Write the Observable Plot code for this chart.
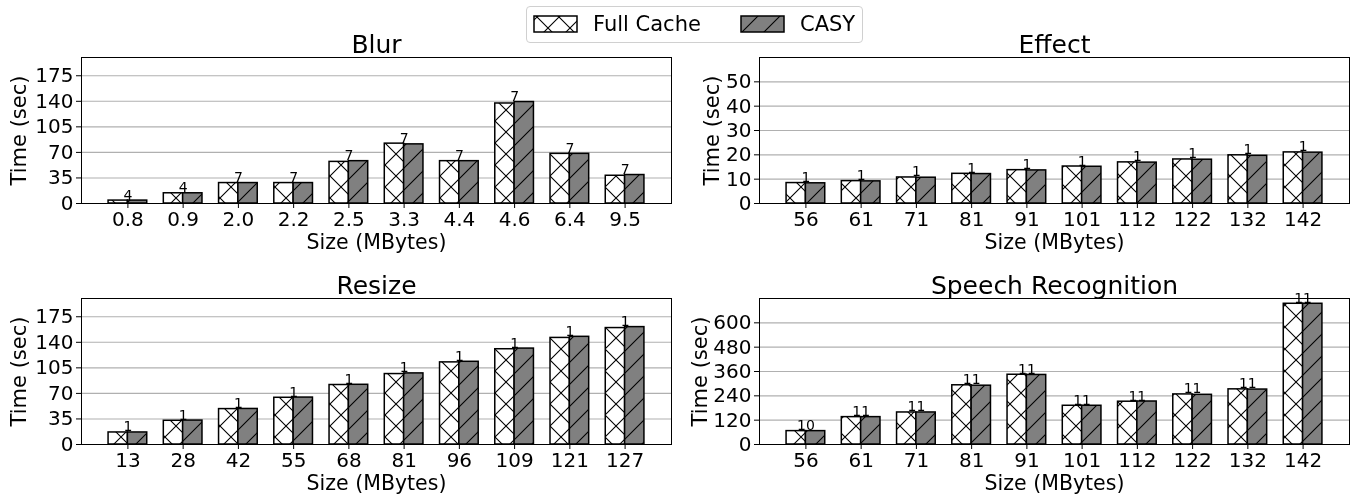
<!DOCTYPE html>
<html>
<head>
<meta charset="utf-8">
<script src="https://cdn.jsdelivr.net/npm/d3@7"></script>
<script src="https://cdn.jsdelivr.net/npm/@observablehq/plot@0.6"></script>
<style>
  html, body { margin: 0; padding: 0; background: white; }
  #root { position: relative; width: 1353px; height: 495px; overflow: hidden; font-family: "DejaVu Sans", sans-serif; }
  .panel { position: absolute; will-change: transform; }
  .panel svg { overflow: visible; }
</style>
</head>
<body>
<div id="root"></div>
<script>
// ---------------- data ----------------
const seriesNames = ["Full Cache", "CASY"];

const blurSizes = ["0.8", "0.9", "2.0", "2.2", "2.5", "3.3", "4.4", "4.6", "6.4", "9.5"];
const blurFull  = [4, 14, 28, 28, 57, 82, 58, 137, 68, 38];
const blurCasy  = [4, 14, 28, 28, 58, 81, 58, 139, 68, 39];
const blurLabels = [4, 4, 7, 7, 7, 7, 7, 7, 7, 7];
const blurTicks = [0, 35, 70, 105, 140, 175];

const effectSizes = ["56", "61", "71", "81", "91", "101", "112", "122", "132", "142"];
const effectFull  = [8.4, 9.2, 10.7, 12.2, 13.7, 15.2, 16.9, 18.1, 19.8, 21.0];
const effectCasy  = [8.3, 9.1, 10.6, 12.1, 13.6, 15.1, 16.8, 18.0, 19.6, 20.9];
const effectLabels = [1, 1, 1, 1, 1, 1, 1, 1, 1, 1];
const effectTicks = [0, 10, 20, 30, 40, 50];

const resizeSizes = ["13", "28", "42", "55", "68", "81", "96", "109", "121", "127"];
const resizeFull  = [16.5, 32.5, 48.5, 64, 81.5, 96.5, 112.5, 130.5, 146, 159.5];
const resizeCasy  = [16.5, 32.8, 48.7, 64.3, 81.8, 97.4, 113.3, 131.4, 147.5, 160.8];
const resizeLabels = [1, 1, 1, 1, 1, 1, 1, 1, 1, 1];
const resizeTicks = [0, 35, 70, 105, 140, 175];

const speechSizes = ["56", "61", "71", "81", "91", "101", "112", "122", "132", "142"];
const speechFull  = [66, 135, 158, 292, 344, 191, 211, 247, 272, 694];
const speechCasy  = [66, 135, 158, 290, 343, 191, 212, 245, 271, 694];
const speechLabels = [10, 11, 11, 11, 11, 11, 11, 11, 11, 11];
const speechTicks = [0, 120, 240, 360, 480, 600];

// ---------------- hatch patterns ----------------
const HP = 22;
const defsMarkup = `
<defs>
  <pattern id="hatchX" patternUnits="userSpaceOnUse" width="${HP}" height="${HP}">
    <rect width="${HP}" height="${HP}" fill="white"/>
    <path d="M0,0L${HP},${HP}M${HP},0L0,${HP}M${HP-1},-1L${HP+1},1M-1,${HP-1}L1,${HP+1}M-1,1L1,-1M${HP-1},${HP+1}L${HP+1},${HP-1}" stroke="black" stroke-width="1.1" fill="none"/>
  </pattern>
  <pattern id="hatchSlash" patternUnits="userSpaceOnUse" width="${HP}" height="${HP}">
    <rect width="${HP}" height="${HP}" fill="#808080"/>
    <path d="M0,${HP}L${HP},0M-1,1L1,-1M${HP-1},${HP+1}L${HP+1},${HP-1}" stroke="black" stroke-width="1.1" fill="none"/>
  </pattern>
</defs>`;

function addDefs(svg) {
  const g = document.createElementNS("http://www.w3.org/2000/svg", "g");
  g.innerHTML = defsMarkup;
  svg.insertBefore(g, svg.firstChild);
}

const BW = 0.35;

function panel({title, sizes, full, casy, labels, yMax, ticks, left, top, width, height, mL, mR, mT, mB, yLabelOffset}) {
  const fullData = sizes.map((s, i) => ({i, v: full[i]}));
  const casyData = sizes.map((s, i) => ({i, v: casy[i]}));
  const labData = sizes.map((s, i) => ({i, top: Math.max(full[i], casy[i]), label: String(labels[i])}));
  const svg = Plot.plot({
    width, height,
    marginLeft: mL, marginRight: mR, marginTop: mT, marginBottom: mB,
    style: {fontFamily: "DejaVu Sans, sans-serif", background: "transparent", color: "black", overflow: "visible"},
    x: {domain: [-0.84, sizes.length - 1 + 0.84]},
    y: {domain: [0, yMax]},
    marks: [
      Plot.ruleY(ticks.slice(1), {stroke: "#b0b0b0", strokeWidth: 1.1}),
      Plot.rectY(fullData, {x1: d => d.i - BW, x2: d => d.i, y1: 0, y2: "v", fill: "url(#hatchX)", stroke: "black", strokeWidth: 1.5}),
      Plot.rectY(casyData, {x1: d => d.i, x2: d => d.i + BW, y1: 0, y2: "v", fill: "url(#hatchSlash)", stroke: "black", strokeWidth: 1.5}),
      Plot.text(labData, {x: "i", y: "top", text: "label", dy: -1, lineAnchor: "bottom", fontSize: 14, fill: "black"}),
      Plot.frame({stroke: "black", strokeWidth: 1}),
      Plot.axisY({ticks, tickSize: 5, tickPadding: 3, fontSize: 20, label: null, stroke: "black"}),
      Plot.axisX({ticks: d3.range(sizes.length), tickFormat: i => sizes[i], tickSize: 5, tickPadding: 3, fontSize: 20, label: null}),
      Plot.text(["Size (MBytes)"], {frameAnchor: "bottom", dy: 39, lineAnchor: "middle", fontSize: 20.5, fill: "black"}),
      Plot.text(["Time (sec)"], {frameAnchor: "left", dx: -yLabelOffset, rotate: -90, textAnchor: "middle", lineAnchor: "top", fontSize: 21, fill: "black"}),
      Plot.text([title], {frameAnchor: "top", dy: -5, lineAnchor: "bottom", fontSize: 25, fill: "black"})
    ]
  });
  addDefs(svg);
  const div = document.createElement("div");
  div.className = "panel";
  div.style.left = left + "px";
  div.style.top = top + "px";
  div.appendChild(svg);
  document.getElementById("root").appendChild(div);
}

panel({title: "Blur", sizes: blurSizes, full: blurFull, casy: blurCasy, labels: blurLabels, yMax: 200, ticks: blurTicks,
  left: 0, top: 0, width: 680, height: 250, mL: 81, mR: 9, mT: 57, mB: 47, yLabelOffset: 70});
panel({title: "Effect", sizes: effectSizes, full: effectFull, casy: effectCasy, labels: effectLabels, yMax: 60, ticks: effectTicks,
  left: 680, top: 0, width: 673, height: 250, mL: 79, mR: 4, mT: 57, mB: 47, yLabelOffset: 55});
panel({title: "Resize", sizes: resizeSizes, full: resizeFull, casy: resizeCasy, labels: resizeLabels, yMax: 200, ticks: resizeTicks,
  left: 0, top: 250, width: 680, height: 245, mL: 81, mR: 9, mT: 48, mB: 51, yLabelOffset: 70});
panel({title: "Speech Recognition", sizes: speechSizes, full: speechFull, casy: speechCasy, labels: speechLabels, yMax: 720, ticks: speechTicks,
  left: 680, top: 250, width: 673, height: 245, mL: 79, mR: 4, mT: 48, mB: 51, yLabelOffset: 67});

// ---------------- legend ----------------
const legend = document.createElement("div");
legend.style.cssText = "position:absolute;left:526px;top:6px;width:337px;height:37px;box-sizing:border-box;border:1px solid #d0d0d0;border-radius:4px;background:rgba(255,255,255,0.9);will-change:transform;";
legend.innerHTML = `<svg width="337" height="37" style="position:absolute;left:-1px;top:-1px">${defsMarkup}
  <rect x="8" y="10" width="43" height="16" fill="url(#hatchX)" stroke="black" stroke-width="1.5"/>
  <text x="67" y="25" font-size="21" font-family="DejaVu Sans, sans-serif">${seriesNames[0]}</text>
  <rect x="215" y="10" width="43" height="16" fill="url(#hatchSlash)" stroke="black" stroke-width="1.5"/>
  <text x="274" y="25" font-size="21" font-family="DejaVu Sans, sans-serif">${seriesNames[1]}</text>
</svg>`;
document.getElementById("root").appendChild(legend);
</script>
</body>
</html>
